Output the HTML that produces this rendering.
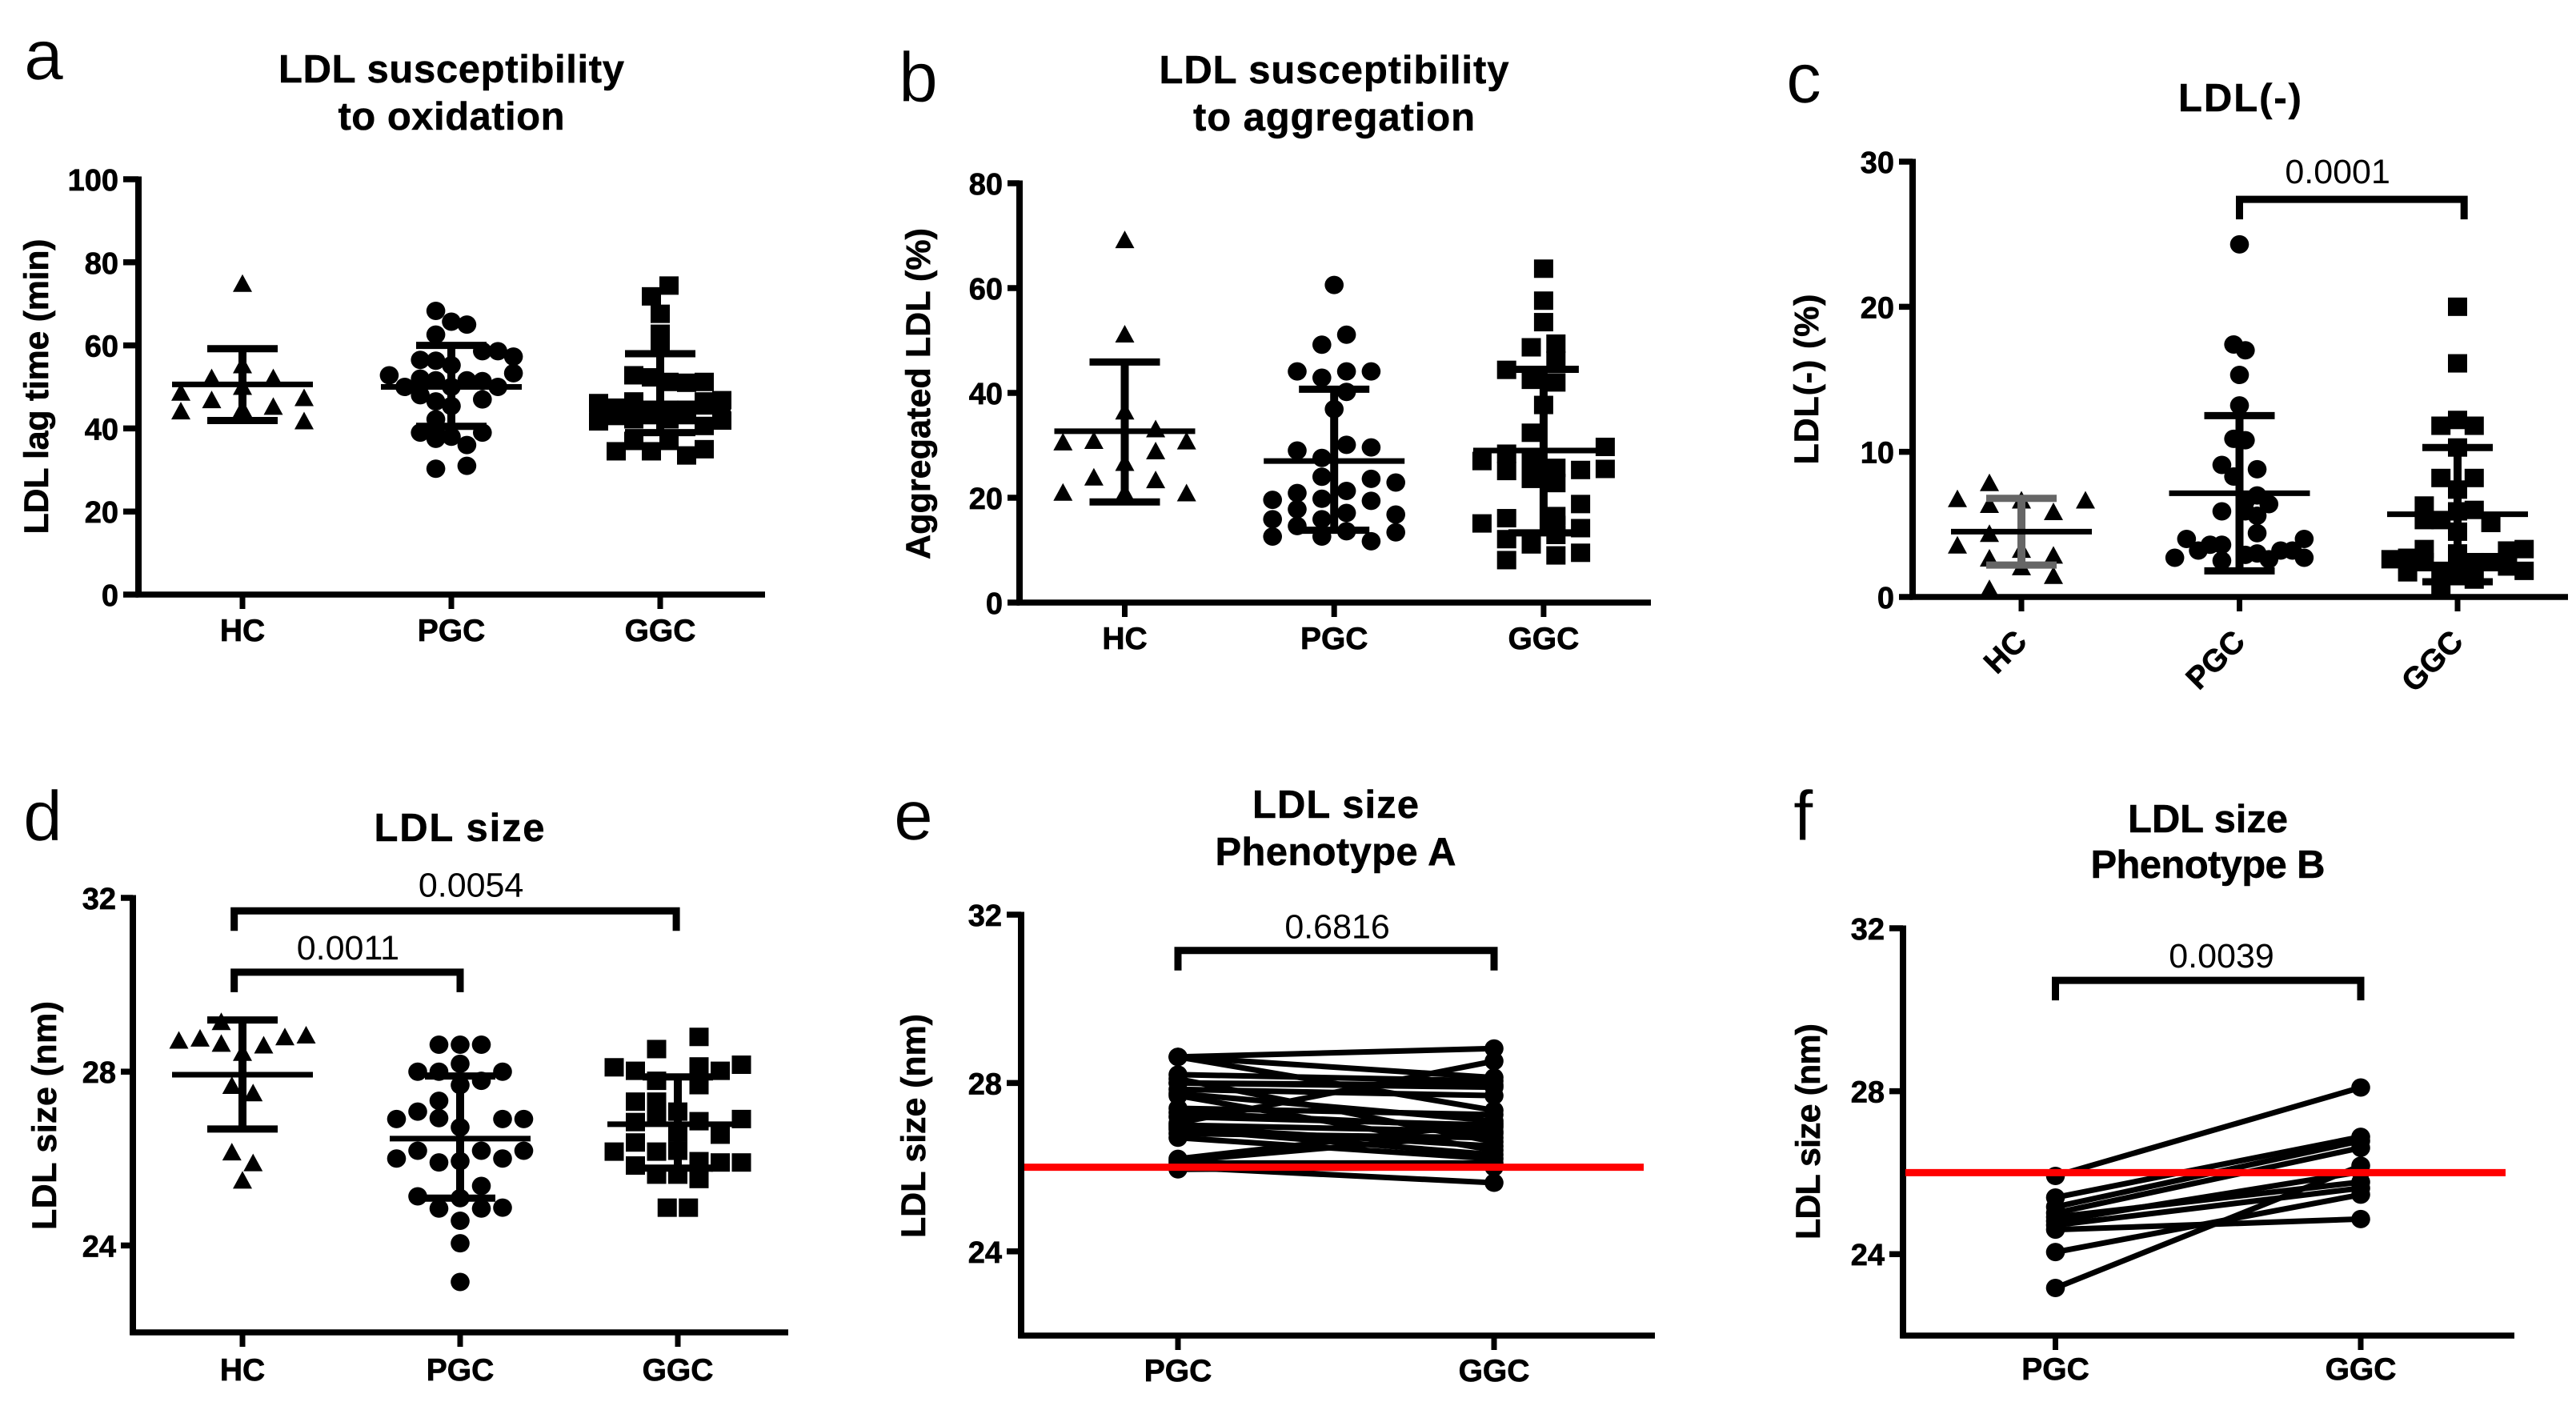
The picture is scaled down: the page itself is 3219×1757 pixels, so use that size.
<!DOCTYPE html>
<html lang="en">
<head>
<meta charset="utf-8">
<title>LDL susceptibility, LDL(-) and LDL size panels</title>
<style>
html,body{margin:0;padding:0;background:#fff;}
svg{display:block;font-family:"Liberation Sans",Arial,sans-serif;}
.letter{font-size:88px;font-weight:400;stroke:#fff;stroke-width:0.6px;}
.title{font-size:49px;font-weight:700;text-anchor:middle;stroke:#000;stroke-width:0.5px;}
.ytitle{font-size:43px;font-weight:700;text-anchor:middle;stroke:#000;stroke-width:0.6px;}
.tick{font-size:38px;font-weight:700;text-anchor:end;stroke:#000;stroke-width:0.7px;}
.cat{font-size:39px;font-weight:700;text-anchor:middle;stroke:#000;stroke-width:0.7px;}
.pval{font-size:43px;font-weight:400;text-anchor:middle;}
</style>
</head>
<body>
<svg id="figure" width="3219" height="1757" viewBox="0 0 3219 1757" xmlns="http://www.w3.org/2000/svg">
  <rect width="3219" height="1757" fill="#fff"/>

  <text class="letter" x="30" y="99">a</text>
  <text class="letter" x="1123" y="127">b</text>
  <text class="letter" x="2232" y="128">c</text>
  <text class="letter" x="29" y="1050">d</text>
  <text class="letter" x="1117" y="1049">e</text>
  <text class="letter" x="2241" y="1050">f</text>

  <text class="title" x="564" y="103" textLength="432">LDL susceptibility</text>
  <text class="title" x="564" y="162" textLength="283">to oxidation</text>
  <text class="title" x="1667" y="104" textLength="437">LDL susceptibility</text>
  <text class="title" x="1667" y="163" textLength="352">to aggregation</text>
  <text class="title" x="2799" y="139" textLength="154">LDL(-)</text>
  <text class="title" x="574" y="1051" textLength="213">LDL size</text>
  <text class="title" x="1669" y="1022" textLength="208">LDL size</text>
  <text class="title" x="1669" y="1081" textLength="301">Phenotype A</text>
  <text class="title" x="2759" y="1040" textLength="200">LDL size</text>
  <text class="title" x="2759" y="1097" textLength="293">Phenotype B</text>

  <text class="ytitle" transform="translate(60 483) rotate(-90)" textLength="369">LDL lag time (min)</text>
  <text class="ytitle" transform="translate(1162 492) rotate(-90)" textLength="414">Aggregated LDL (%)</text>
  <text class="ytitle" transform="translate(2272 474) rotate(-90)" textLength="213">LDL(-) (%)</text>
  <text class="ytitle" transform="translate(70 1394) rotate(-90)" textLength="286">LDL size (nm)</text>
  <text class="ytitle" transform="translate(1156 1407) rotate(-90)" textLength="280">LDL size (nm)</text>
  <text class="ytitle" transform="translate(2274 1414) rotate(-90)" textLength="270">LDL size (nm)</text>
</svg>

<script>
// ---- Shared category labels ----
const threeGroups = ['HC', 'PGC', 'GGC'];
const twoGroups = ['PGC', 'GGC'];

// ---- Panel a: LDL lag time (min). Each inner array is one swarm row of values; null = empty slot ----
const aTicks = [0, 20, 40, 60, 80, 100];
const aHc = [[75], [55.4], [52.3, 50.2, 52.3], [48.8, 47, 44.9, 45.4, 47.5], [44.3, null, null, null, 41.9]];
const aPgc = [[68.3, null], [65.7], [null, 65], [62.6, null], [52.8, 56.5, 55.2, 58.6, 57.3], [null, 56.3, null, 58.6], [null, 52, 50, 51.4, 53.3], [50, 51.6, 51.6, 50], [null, 48, 45.4, 47, null], [46.5, null], [42.2, null], [null, 39, 38, 39, null], [39, 36], [37.5, null], [30.3, 31]];
const aGgc = [[null, 74.4], [71.8, null], [67.6], [62.8], [60.2], [null, 52.8, 52.3, 51.2, 51, 51.2], [46.1, 45, 46.5, 44.5, 44.5, 44.5, 46.5, 46.8], [41.7, 43, 42.2, 43.2, 42.2, 43.2, 40.6, 41.9], [34.5, 37, 34.5, 37, 33.5, 35]];
const aMeans = [50.6, 50, 44];
const aUpper = [59.2, 60, 58];
const aLower = [41.9, 40.5, 39];

// ---- Panel b: Aggregated LDL (%) ----
const bTicks = [0, 20, 40, 60, 80];
const bHc = [[69.3], [51.3], [null, null, 36.6, 33.2, null], [30.7, 31, 26.8, 29, 30.9], [21.1, 24, 21.1, 23.5, 21]];
const bPgc = [[60.6], [49.2, 51.1], [44.1, 42.9, 44.1, 44.1], [null, 40.2], [36.9], [29, 27.6, 30.1, 29.6], [19.6, 20.9, 24, 21.3, 23.6, 22.9], [15.9, 17.8, 19.8, 17.1, 19.4, 16.8], [12.6, 14.6, 15.9, 13.6, 11.7, 13.4], [null, null, 12.6, null, null, null]];
const bGgc = [[63.7], [57.6], [53.5], [48.7, 49.4], [null, 46.2], [44.4, 42.5, 42, null], [37.7], [32.4, null], [27, 28.4, 27, 25.7, 25.3, 29.7], [null, 25.1, 23.6, 22.8, null, 25.5], [15.1, 16.1, null, 16.5, 18.8, null], [12.1, 11.1, 14.8, 14.2], [8.1, null, 12.9, 9.5], [null, 9]];
const bMeans = [32.7, 27, 29];
const bUpper = [45.9, 40.7, 44.5];
const bLower = [19.2, 13.8, 13.3];

// ---- Panel c: LDL(-) (%) ----
const cTicks = [0, 10, 20, 30];
const cHc = [[null, 7.9, null, null, null], [6.8, 6.4, 6.7, 5.9, 6.7], [3.6, 4.4, 3.3, 2.9, null], [null, 2.7, 2.1, 1.5, null], [null, 0.6, null, null, null]];
const cPgc = [[24.3], [17.4, 17], [15.3], [13.2], [10.9, 10.8], [9.1, 8.3, null, 8.8], [5.9, null, 6.6, 7], [null, null, 5.9, 5.6], [null, null, null, null, null, 6.4], [null, null, null, null, 3.6, null, null, 4.4, null, null, null, 4], [2.7, 4, 3.2, 3.6, 2.5, null, 2.9, 3, 2.6, 3.2, 3.2, 2.7]];
const cGgc = [[20], [16.1], [11.8, 12.2, 11.8], [10.3], [8.2, 7.4, 8.2], [6.3, null, 5.9, 6, null], [5.3, 5.3, 4.5, null, 5.1], [2.6, 2.7, 3.3, 1.8, 3, 2.4, 2.4, 3.2, 3.3], [null, 1.7, 2.4, 0.5, 1.9, 1.2, null, 2.1, 1.8]];
const cMeans = [4.5, 7.15, 5.7];
const cUpper = [6.8, 12.5, 10.3];
const cLower = [2.2, 1.8, 1.05];

// ---- Panel d: LDL size (nm) ----
const dTicks = [24, 28, 32];
const dHc = [[28.73, 28.78, 28.66, 28.45, 28.62, 28.81, 28.85], [null, null, 29.16, null, null, null, null], [27.69, 27.52], [26.16, 25.91], [25.51]];
const dPgc = [[28.62, 28.62, 28.62], [28.18], [28, 28, 27.69, 27.79, 28], [27.33, null, null], [26.91, 27.08, 26.93, 26.72, null, 26.91, 26.91], [26, 26.18, 25.91, 25.94, 26.18, 26, 26.18], [25.13, null, 25.09, 25.37, null], [24.85, 24.57, 24.85], [null, null, null, null, 24.87], [24.05], [23.16]];
const dGgc = [[28.1, 28.02, 27.79, null, 28.12, 28.02, 28.16], [null, null, 28.52, null, 28.8, null, null], [null, 27.31, 27.31, 27.08, 27.69, null, null], [null, 26.84, 27.03, 26.6, 26.86, 26.55, 26.91], [26.16, 26.37, 26.16, 26.18, 25.94, 25.91, 25.91], [null, 25.84, 25.63, 25.63, 25.53, null, null], [24.87, 24.87]];
const dMeans = [27.93, 26.46, 26.79];
const dUpper = [29.19, 27.9, 27.88];
const dLower = [26.68, 25.09, 25.78];

// ---- Panel e: paired LDL size, phenotype A ----
const eTicks = [24, 28, 32];
const ePgc = [28.62, 28.62, 28.62, 28.2, 28.1, 28.0, 28.0, 27.85, 27.75, 27.7, 27.4, 27.3, 27.2, 27.05, 27.0, 26.95, 26.9, 26.8, 26.7, 26.2, 26.15, 26.1, 26.0, 25.95];
const eGgc = [28.82, 28.13, 27.35, 28.05, 26.6, 27.95, 27.9, 27.7, 27.1, 26.4, 27.25, 26.95, 27.0, 28.52, 26.85, 26.5, 26.3, 26.7, 26.2, 27.05, 26.8, 26.1, 25.63, 26.0];

// ---- Panel f: paired LDL size, phenotype B ----
const fTicks = [24, 28, 32];
const fPgc = [25.92, 25.39, 25.16, 25.01, 24.91, 24.81, 24.71, 24.6, 24.05, 23.17];
const fGgc = [28.09, 26.88, 26.78, 26.61, 25.77, 26.02, 25.62, 24.86, 25.46, 26.17];

// ---- Reference line and significance annotations ----
const phenotypeCutoff = [26];
const cPValue = ['0.0001'];
const dPValues = ['0.0054', '0.0011'];
const ePValue = ['0.6816'];
const fPValue = ['0.0039'];

const svg = document.getElementById('figure');
const NS = svg.namespaceURI;

function make(parent, tag, attrs, text) {
  const el = document.createElementNS(NS, tag);
  for (const k in attrs) el.setAttribute(k, attrs[k]);
  if (text !== undefined) el.textContent = text;
  parent.appendChild(el);
  return el;
}

function makePanel(key, cfg) {
  const g = make(svg, 'g', {});
  
  
  cfg.key = key;
  cfg.g = g;
  cfg.y = v => cfg.y0 - (v - cfg.yMin) * (cfg.y0 - cfg.yTop) / (cfg.yMax - cfg.yMin);
  cfg.x = i => cfg.x0 + i * cfg.dx;
  return cfg;
}

function drawAxes(p, ticks, cats) {
  const yAxis = make(p.g, 'line', {x1: p.axisX, x2: p.axisX, y1: p.yTop - 3.5, y2: p.y0 + 3.5, stroke: '#000', 'stroke-width': 8});
  
  
  const xAxis = make(p.g, 'line', {x1: p.axisX - 3.5, x2: p.right, y1: p.y0, y2: p.y0, stroke: '#000', 'stroke-width': 7.5});
  
  
  ticks.forEach(t => {
    const tick = make(p.g, 'line', {x1: p.tickLeft, x2: p.axisX, y1: p.y(t), y2: p.y(t), stroke: '#000', 'stroke-width': 7.5});
    
    
    const lab = make(p.g, 'text', {class: 'tick', x: p.tickLeft - 6, y: p.y(t) + 14}, String(t));
    
    
  });
  cats.forEach((c, i) => {
    const cx = p.x(i);
    const tick = make(p.g, 'line', {x1: cx, x2: cx, y1: p.y0, y2: p.y0 + 18, stroke: '#000', 'stroke-width': 7});
    
    
    const attrs = p.rotate
      ? {class: 'cat', style: 'text-anchor:end', transform: 'translate(' + (cx + 9) + ' ' + (p.y0 + 58) + ') rotate(-45)'}
      : {class: 'cat', x: cx, y: p.y0 + p.catDy};
    const lab = make(p.g, 'text', attrs, c);
    
    
  });
}

function drawMark(g, shape, x, y) {
  let el;
  if (shape === 'triangle') {
    el = make(g, 'polygon', {points: (x - 12) + ',' + (y + 11) + ' ' + (x + 12) + ',' + (y + 11) + ' ' + x + ',' + (y - 11), fill: '#000'});
  } else if (shape === 'square') {
    el = make(g, 'rect', {x: x - 12, y: y - 11.5, width: 24, height: 23, fill: '#000'});
  } else {
    el = make(g, 'ellipse', {cx: x, cy: y, rx: 11.8, ry: 11.5, fill: '#000'});
  }
  return el;
}

function drawSwarm(p, i, rows, step, shape, cat) {
  const cx = p.x(i);
  rows.forEach(row => {
    row.forEach((v, s) => {
      if (v === null) return;
      const m = drawMark(p.g, shape, cx + (s - (row.length - 1) / 2) * step, p.y(v));
      
      
    });
  });
}

function drawSummary(p, i, mean, upper, lower, cat, color) {
  const cx = p.x(i);
  const col = color || '#000';
  const stem = make(p.g, 'line', {x1: cx, x2: cx, y1: p.y(upper), y2: p.y(lower), stroke: col, 'stroke-width': 10});
  
  
  [upper, lower].forEach(v => {
    const cap = make(p.g, 'line', {x1: cx - 44, x2: cx + 44, y1: p.y(v), y2: p.y(v), stroke: col, 'stroke-width': 9});
    
    
  });
  const meanLine = make(p.g, 'line', {x1: cx - 88, x2: cx + 88, y1: p.y(mean), y2: p.y(mean), stroke: '#000', 'stroke-width': 7});
  
  
}

function drawBracket(p, from, to, level, label, labelPos, gap) {
  const xa = p.x(from), xb = p.x(to), yb = p.y(level);
  const path = make(p.g, 'path', {d: 'M' + xa + ' ' + (yb + 25) + 'V' + yb + 'H' + xb + 'V' + (yb + 25), fill: 'none', stroke: '#000', 'stroke-width': 9});
  
  
  const t = make(p.g, 'text', {class: 'pval', x: p.x(labelPos), y: yb - gap}, label);
  
  
}

function drawPaired(p, left, right) {
  left.forEach((v, k) => {
    const ln = make(p.g, 'line', {x1: p.x(0), x2: p.x(1), y1: p.y(v), y2: p.y(right[k]), stroke: '#000', 'stroke-width': 7});
    
    
    const a = drawMark(p.g, 'circle', p.x(0), p.y(v));
    
    
    const b = drawMark(p.g, 'circle', p.x(1), p.y(right[k]));
    
    
  });
}

function drawCutoff(p, xa, xb, value) {
  const r = make(p.g, 'line', {x1: xa, x2: xb, y1: p.y(value), y2: p.y(value), stroke: '#f00', 'stroke-width': 9});
  
  
}

// Panel a
const pa = makePanel('a', {axisX: 173, tickLeft: 154, right: 956, y0: 743, yTop: 224, yMin: 0, yMax: 100, x0: 303, dx: 261, catDy: 58});
drawAxes(pa, aTicks, threeGroups);
drawSwarm(pa, 0, aHc, 38.5, 'triangle', threeGroups[0]);
drawSwarm(pa, 1, aPgc, 38.8, 'circle', threeGroups[1]);
drawSwarm(pa, 2, aGgc, 22, 'square', threeGroups[2]);
threeGroups.forEach((c, i) => drawSummary(pa, i, aMeans[i], aUpper[i], aLower[i], c));

// Panel b
const pb = makePanel('b', {axisX: 1274, tickLeft: 1259, right: 2063, y0: 753, yTop: 229, yMin: 0, yMax: 80, x0: 1405.5, dx: 261.7, catDy: 58});
drawAxes(pb, bTicks, threeGroups);
drawSwarm(pb, 0, bHc, 38.6, 'triangle', threeGroups[0]);
drawSwarm(pb, 1, bPgc, 30.8, 'circle', threeGroups[1]);
drawSwarm(pb, 2, bGgc, 30.8, 'square', threeGroups[2]);
threeGroups.forEach((c, i) => drawSummary(pb, i, bMeans[i], bUpper[i], bLower[i], c));

// Panel c
const pc = makePanel('c', {axisX: 2390, tickLeft: 2373, right: 3209, y0: 746, yTop: 202, yMin: 0, yMax: 30, x0: 2526, dx: 272.5, rotate: true});
drawAxes(pc, cTicks, threeGroups);
drawSwarm(pc, 0, cHc, 40, 'triangle', threeGroups[0]);
drawSwarm(pc, 1, cPgc, 14.7, 'circle', threeGroups[1]);
drawSwarm(pc, 2, cGgc, 20.8, 'square', threeGroups[2]);
threeGroups.forEach((c, i) => drawSummary(pc, i, cMeans[i], cUpper[i], cLower[i], c, i === 0 ? '#666' : '#000'));
drawBracket(pc, 1, 2.03, 27.4, cPValue[0], 1.45, 20);

// Panel d
const pd = makePanel('d', {axisX: 166, tickLeft: 151, right: 985, y0: 1665, yTop: 1122, yMin: 22, yMax: 32, x0: 303, dx: 272, catDy: 60});
drawAxes(pd, dTicks, threeGroups);
drawSwarm(pd, 0, dHc, 26.5, 'triangle', threeGroups[0]);
drawSwarm(pd, 1, dPgc, 26.5, 'circle', threeGroups[1]);
drawSwarm(pd, 2, dGgc, 26.5, 'square', threeGroups[2]);
threeGroups.forEach((c, i) => drawSummary(pd, i, dMeans[i], dUpper[i], dLower[i], c));
drawBracket(pd, -0.038, 1.993, 31.7, dPValues[0], 1.05, 18);
drawBracket(pd, -0.038, 1, 30.29, dPValues[1], 0.485, 16);

// Panel e
const pe = makePanel('e', {axisX: 1276, tickLeft: 1258, right: 2068, y0: 1669, yTop: 1143, yMin: 22, yMax: 32, x0: 1472, dx: 395, catDy: 57});
drawAxes(pe, eTicks, twoGroups);
drawPaired(pe, ePgc, eGgc);
drawCutoff(pe, 1280, 2054, phenotypeCutoff[0]);
drawBracket(pe, 0, 1, 31.15, ePValue[0], 0.504, 15);

// Panel f
const pf = makePanel('f', {axisX: 2378, tickLeft: 2361, right: 3142, y0: 1669, yTop: 1160, yMin: 22, yMax: 32, x0: 2568.5, dx: 381.5, catDy: 55});
drawAxes(pf, fTicks, twoGroups);
drawPaired(pf, fPgc, fGgc);
drawCutoff(pf, 2381, 3131, phenotypeCutoff[0]);
drawBracket(pf, 0, 1, 30.72, fPValue[0], 0.544, 16);
</script>
</body>
</html>
